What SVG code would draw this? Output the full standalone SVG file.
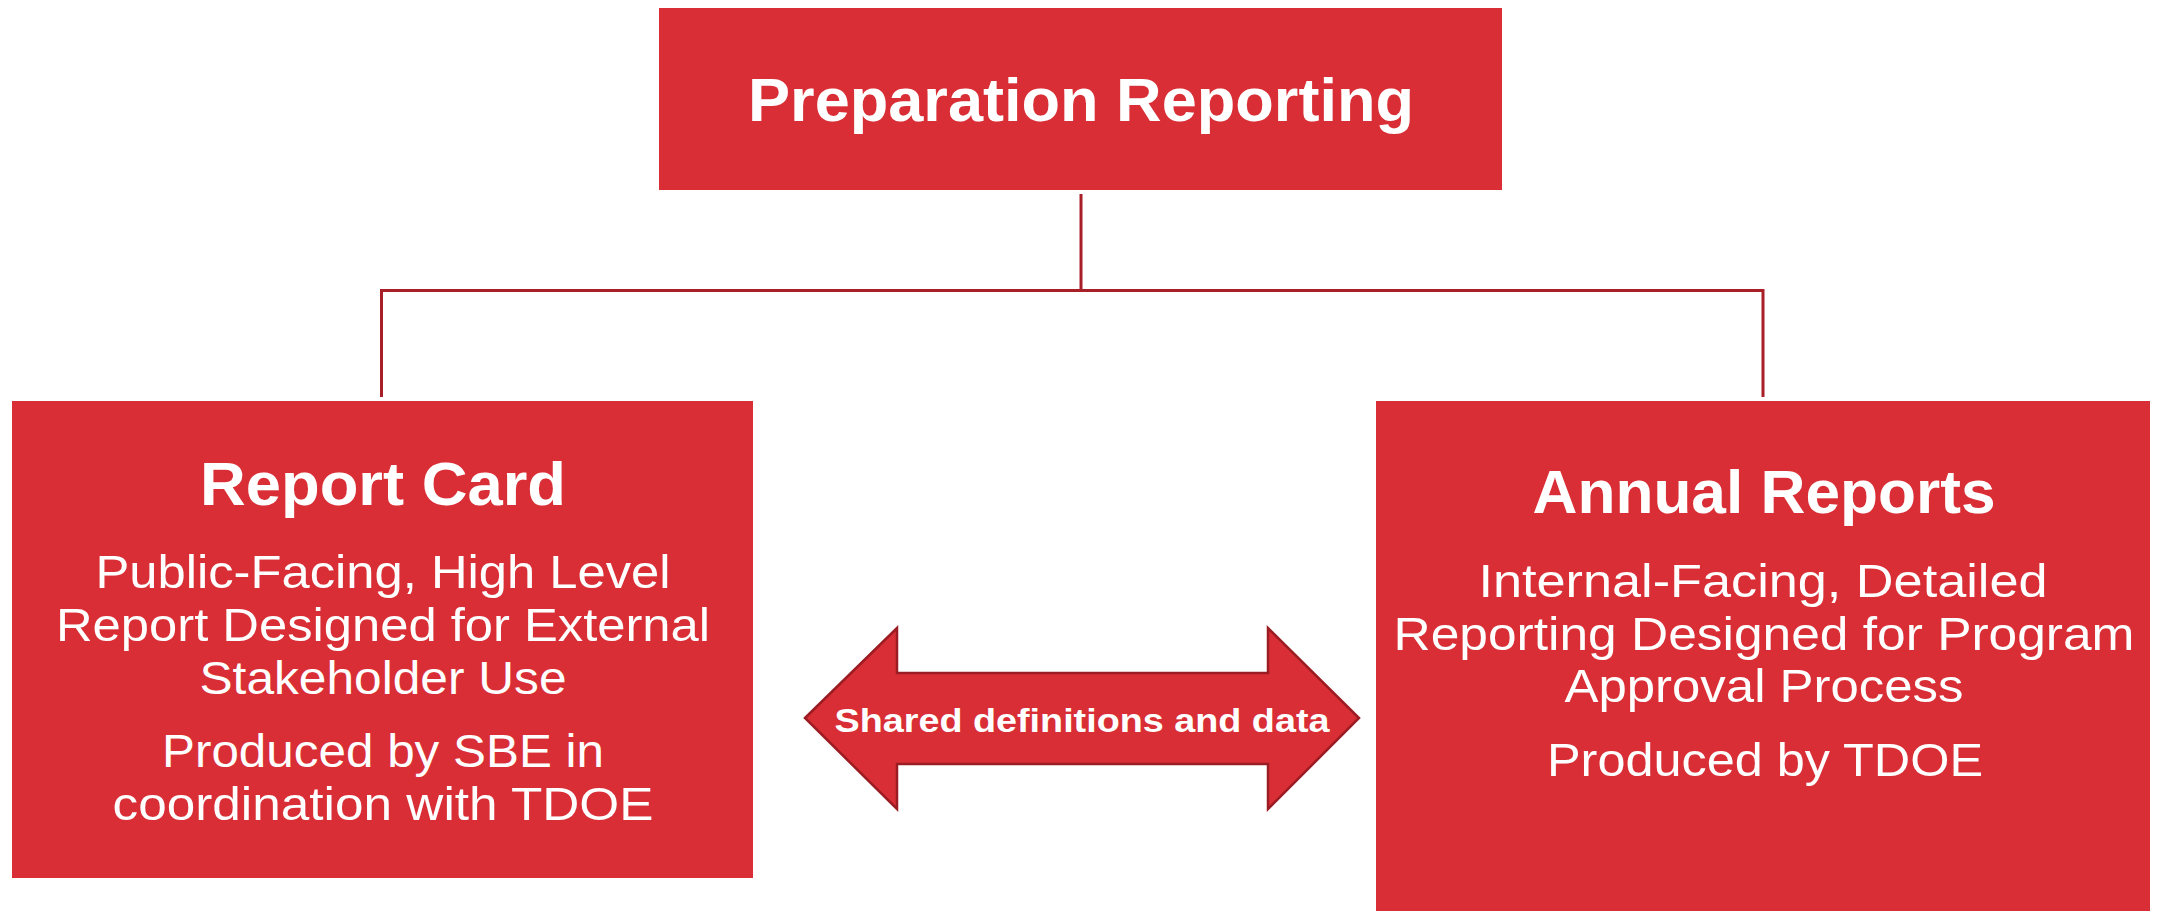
<svg xmlns="http://www.w3.org/2000/svg" width="2159" height="911" viewBox="0 0 2159 911">
<style>
.box{fill:#d92e35;}
.conn{fill:none;stroke:#a81f28;stroke-width:3;}
.t{font-family:"Liberation Sans",Arial,sans-serif;fill:#ffffff;text-anchor:middle;}
.title{font-size:62px;font-weight:bold;}
.body{font-size:46px;}
.arrow{fill:#d92e35;stroke:#9b1c22;stroke-width:2.5;stroke-linejoin:miter;}
.lbl{font-size:33px;font-weight:bold;}
</style>
<rect width="2159" height="911" fill="#ffffff"/>
<g id="connectors">
<path class="conn" d="M1081,194 V290.5"/>
<path class="conn" d="M381.5,397 V290.5 H1763 V397"/>
</g>
<g id="node-preparation">
<rect class="box" x="659" y="8" width="843" height="182"/>
<text class="t title" x="1081" y="121" textLength="666" lengthAdjust="spacingAndGlyphs">Preparation Reporting</text>
</g>
<g id="node-report-card">
<rect class="box" x="12" y="401" width="741" height="477"/>
<text class="t title" x="383" y="505" textLength="366" lengthAdjust="spacingAndGlyphs">Report Card</text>
<text class="t body" x="383" y="588" textLength="575" lengthAdjust="spacingAndGlyphs">Public-Facing, High Level</text>
<text class="t body" x="383" y="641" textLength="654" lengthAdjust="spacingAndGlyphs">Report Designed for External</text>
<text class="t body" x="383" y="694" textLength="367" lengthAdjust="spacingAndGlyphs">Stakeholder Use</text>
<text class="t body" x="383" y="767" textLength="442" lengthAdjust="spacingAndGlyphs">Produced by SBE in</text>
<text class="t body" x="383" y="820" textLength="541" lengthAdjust="spacingAndGlyphs">coordination with TDOE</text>
</g>
<g id="node-annual-reports">
<rect class="box" x="1376" y="401" width="774" height="510"/>
<text class="t title" x="1764" y="513" textLength="463" lengthAdjust="spacingAndGlyphs">Annual Reports</text>
<text class="t body" x="1763" y="597" textLength="569" lengthAdjust="spacingAndGlyphs">Internal-Facing, Detailed</text>
<text class="t body" x="1764" y="650" textLength="741" lengthAdjust="spacingAndGlyphs">Reporting Designed for Program</text>
<text class="t body" x="1764" y="702" textLength="399" lengthAdjust="spacingAndGlyphs">Approval Process</text>
<text class="t body" x="1765" y="776" textLength="436" lengthAdjust="spacingAndGlyphs">Produced by TDOE</text>
</g>
<g id="node-shared-arrow">
<polygon class="arrow" points="805,718 897,628 897,673 1268,673 1268,628 1359,718 1268,809 1268,764 897,764 897,809"/>
<text class="t lbl" x="1082" y="732" textLength="495" lengthAdjust="spacingAndGlyphs">Shared definitions and data</text>
</g>
</svg>
